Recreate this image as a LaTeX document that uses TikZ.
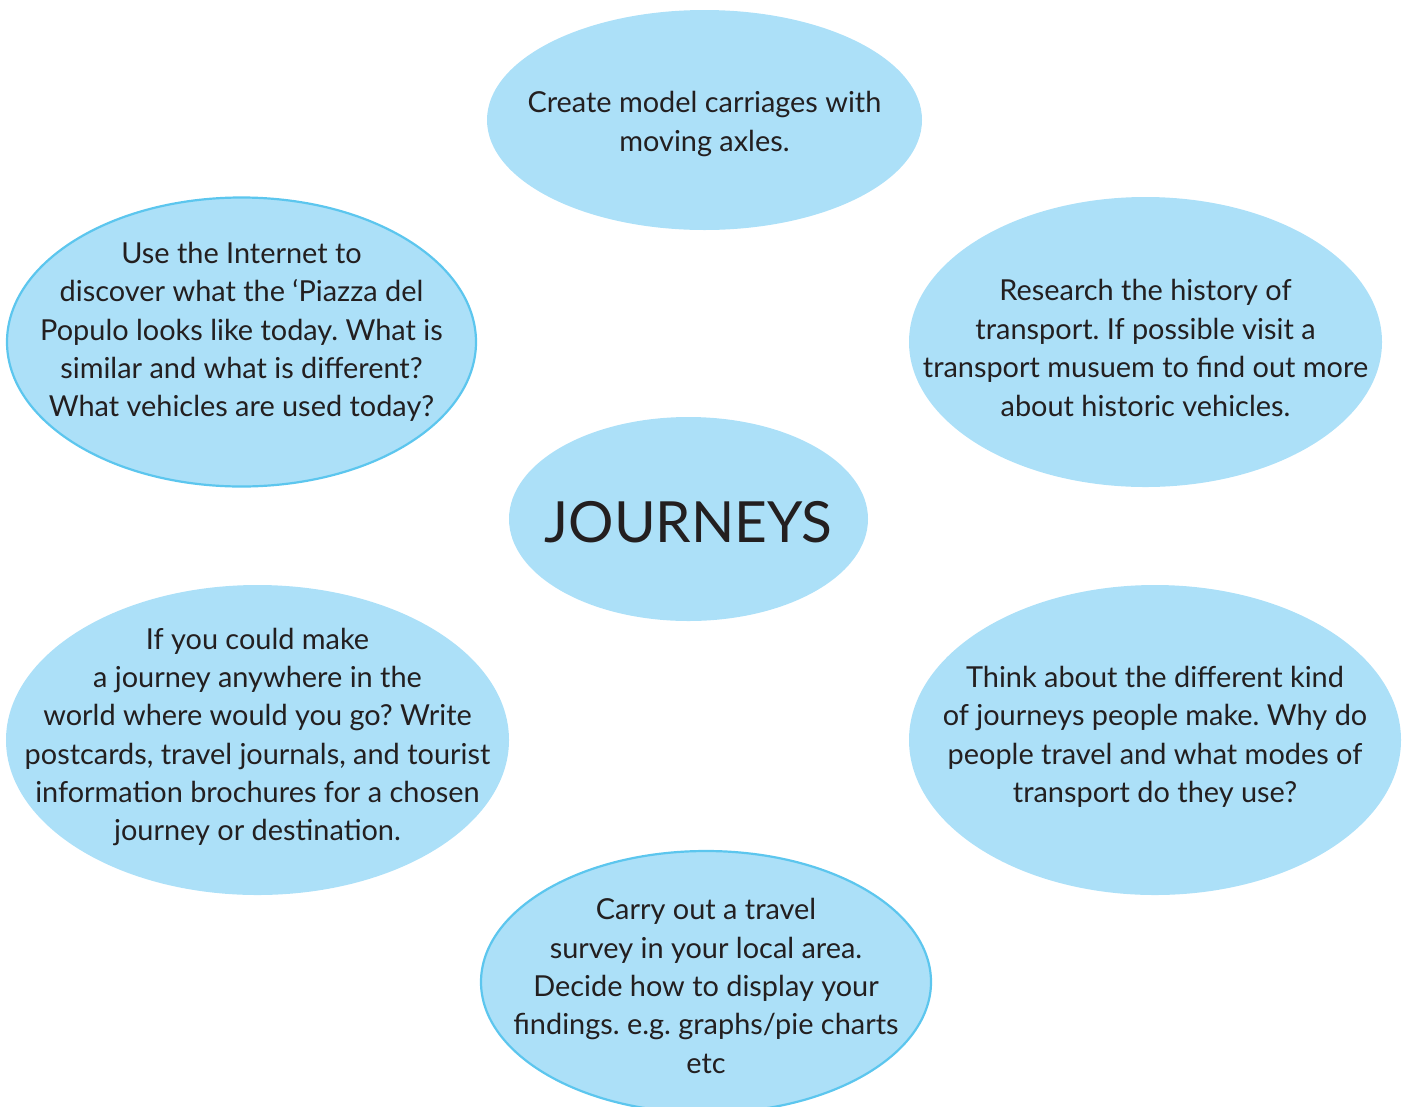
\documentclass[tikz,border=0pt]{standalone}
\usepackage{fontspec}
\setmainfont{Lato}
\usetikzlibrary{shapes.geometric}
\definecolor{bubble}{HTML}{ACE0F8}
\definecolor{rim}{HTML}{5CC6EE}
\definecolor{ink}{HTML}{231F20}
\tikzset{
  bub/.style={ellipse, fill=bubble, inner sep=0pt, minimum width=#1},
  rimmed/.style={draw=rim, line width=2.2bp},
  txt/.style={align=center, text=ink, font=\fontsize{29}{38.5}\selectfont\frenchspacing, inner sep=0pt},
}
\begin{document}
\begin{tikzpicture}[x=1bp,y=-1bp]
\useasboundingbox (0,0) rectangle (1406,1106);
\clip (0,0) rectangle (1406,1106);
% ellipses
\node[bub=435bp, minimum height=220bp] (e1) at (704.5,120) {};
\node[bub=469bp, minimum height=289bp, rimmed] (e2) at (241.5,342) {};
\node[bub=473bp, minimum height=290bp] (e3) at (1145.5,342) {};
\node[bub=359bp, minimum height=204bp] (e4) at (688.5,519) {};
\node[bub=503bp, minimum height=310bp] (e5) at (257.5,740) {};
\node[bub=492bp, minimum height=310bp] (e6) at (1155,740) {};
\node[bub=450bp, minimum height=262bp, rimmed] (e7) at (706,982) {};
% texts
\node[txt] (t1) at (704.5,124) {Create model carriages with\\moving axles.};
\node[txt] (t2) at (241.5,332) {Use the Internet to\\discover what the ‘Piazza del\\Populo looks like today. What is\\similar and what is different?\\What vehicles are used today?};
\node[txt] (t3) at (1145.5,348) {Research the history of\\transport. If possible visit a\\transport musuem to find out more\\about historic vehicles.};
\node[txt, font=\fontsize{57}{63}\selectfont] (t4) at (688.5,522) {JOURNEYS};
\node[txt] (t5) at (257.5,737) {If you could make\\a journey anywhere in the\\world where would you go? Write\\postcards, travel journals, and tourist\\information brochures for a chosen\\journey or destination.};
\node[txt] (t6) at (1155,737) {Think about the different kind\\of journeys people make. Why do\\people travel and what modes of\\transport do they use?};
\node[txt] (t7) at (706,986) {Carry out a travel\\survey in your local area.\\Decide how to display your\\findings. e.g. graphs/pie charts\\etc};
\end{tikzpicture}
\end{document}
